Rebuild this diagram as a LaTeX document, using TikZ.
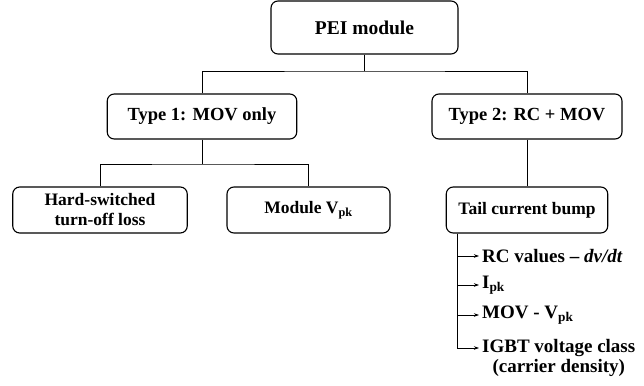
\documentclass[tikz,border=0pt]{standalone}
\usepackage{fontspec}
\setmainfont{Liberation Serif}
\usetikzlibrary{arrows.meta}
\begin{document}
\begin{tikzpicture}[x=1pt,y=-1pt,
  box/.style={draw,line width=1.1pt,rounded corners=7pt,align=center,inner sep=0pt,font=\bfseries\fontsize{17.5}{20}\selectfont},
  conn/.style={line width=0.7pt},
  item/.style={anchor=west,inner sep=3pt,font=\bfseries\fontsize{19}{20}\selectfont},
  arr/.style={line width=0.7pt,-{Stealth[length=5pt,width=3.5pt]}}]
\useasboundingbox (0,0) rectangle (644,385);
\node[box,minimum width=187pt,minimum height=53pt,font=\bfseries\fontsize{19.5}{22}\selectfont] (pei) at (364.5,27.5) {PEI module};
\node[box,minimum width=189.5pt,minimum height=45pt,font=\bfseries\fontsize{18.5}{21}\selectfont] (t1) at (202,116.5) {Type 1: MOV only};
\node[box,minimum width=190pt,minimum height=45pt,font=\bfseries\fontsize{18.5}{21}\selectfont] (t2) at (527,116.5) {Type 2: RC + MOV};
\node[box,minimum width=174.5pt,minimum height=46pt] (hard) at (100,210) {Hard-switched\\turn-off loss};
\node[box,minimum width=163pt,minimum height=46pt] (mod) at (308.5,210) {Module V\textsubscript{pk}};
\node[box,minimum width=161.5pt,minimum height=46pt] (tail) at (527,210) {Tail current bump};
\coordinate (j1) at (364.5,71);
\coordinate (j2) at (202,164);
\draw[conn] (pei.south) -- (j1);
\draw[conn] (t1.north) |- (j1) -| (t2.north);
\draw[conn] (t1.south) -- (j2);
\draw[conn] (hard.north) |- (j2) -| (mod.north);
\draw[conn] (t2.south) -- (tail.north);
\coordinate (b0) at ([xshift=12pt]tail.south west);
\node[item] (rc) at (479,256) {RC values -- \textit{dv/dt}};
\node[item] (ipk) at (479,285) {I\textsubscript{pk}};
\node[item] (mov) at (479,315) {MOV - V\textsubscript{pk}};
\node[item,anchor=north west,align=center,inner sep=1pt] (igbt) at (481,338) {IGBT voltage class\\(carrier density)};
\coordinate (ig) at (479,348);
\draw[arr] (b0) |- (rc.west);
\draw[arr] (b0) |- (ipk.west);
\draw[arr] (b0) |- (mov.west);
\draw[arr] (b0) |- (ig);
\end{tikzpicture}
\end{document}
